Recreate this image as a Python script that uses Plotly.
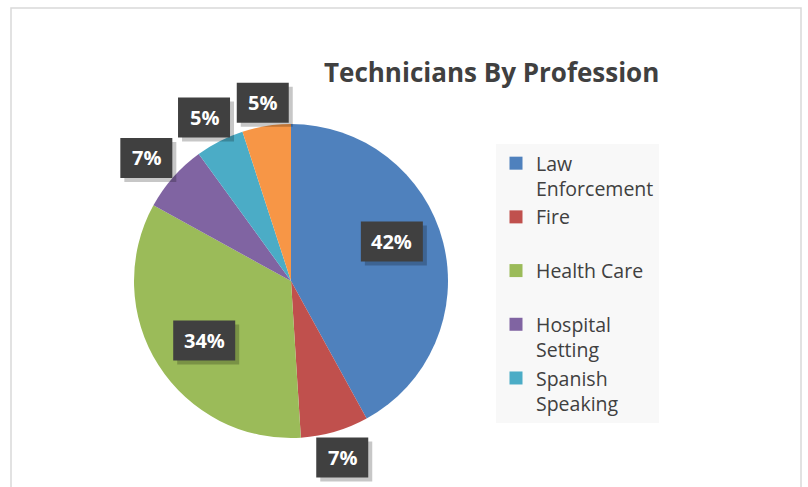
import math
import plotly.graph_objects as go

# ---- data ----
professions = ["Law Enforcement", "Fire", "Health Care", "Hospital Setting", "Spanish Speaking", "Other"]
legend_names = ["Law<br>Enforcement", "Fire<br>\u00a0", "Health Care<br>\u00a0", "Hospital<br>Setting", "Spanish<br>Speaking"]
shares = [42, 7, 34, 7, 5, 5]
colors = ["#4F81BD", "#C0504D", "#9BBB59", "#8064A2", "#4BACC6", "#F79646"]

# ---- layout constants (pixels) ----
W, H = 808, 487
cx, cy, R = 291, 281, 157
label_r = [0.69, 1.17, 0.67, 1.21, 1.18, 1.15]
label_dang = [-7, 0, -2, -1, -1, 0]

def px(x):
    return x / W

def py(y):
    return 1 - y / H

fig = go.Figure()
fig.add_trace(go.Pie(
    labels=professions, values=shares, sort=False, direction="clockwise",
    rotation=0, marker=dict(colors=colors, line=dict(width=0)),
    textinfo="none", hoverinfo="label+percent", showlegend=False,
    domain=dict(x=[px(cx - R), px(cx + R)], y=[py(cy + R), py(cy - R)]),
))

for name, col in zip(legend_names, colors):
    fig.add_trace(go.Scatter(
        x=[None], y=[None], mode="markers", name=name,
        marker=dict(symbol="square", size=13, color=col),
    ))

total = sum(shares)
annotations = []
shapes = [dict(
    type="rect", xref="paper", yref="paper",
    x0=px(11), x1=px(801), y0=py(520), y1=py(8),
    line=dict(color="#D9D9D9", width=1.5), layer="below",
)]
cum = 0
for i, v in enumerate(shares):
    mid = (cum + v / 2) / total * 360 + label_dang[i]
    cum += v
    a = math.radians(mid)
    lx = cx + label_r[i] * R * math.sin(a)
    ly = cy - label_r[i] * R * math.cos(a)
    txt = f"{round(v / total * 100)}%"
    hw = 31 if len(txt) == 3 else 26
    hh = 20
    for off, colr in ((4, "rgba(0,0,0,0.22)"), (0, "#404040")):
        shapes.append(dict(
            type="rect", xref="paper", yref="paper",
            xsizemode="pixel", ysizemode="pixel",
            xanchor=px(lx), yanchor=py(ly),
            x0=-hw + off, x1=hw + off, y0=-hh - off, y1=hh - off,
            fillcolor=colr, line=dict(width=0), layer="above",
        ))
    annotations.append(dict(
        x=px(lx), y=py(ly), xref="paper", yref="paper", text=txt,
        xanchor="center", yanchor="middle", showarrow=False,
        font=dict(family="Open Sans", size=20, color="white", weight="bold"),
    ))

annotations.append(dict(
    x=px(491), y=py(72), xref="paper", yref="paper",
    xanchor="center", yanchor="middle",
    text="<b>Technicians By Profession</b>", showarrow=False,
    font=dict(family="Open Sans", size=26, color="#404040"),
))

fig.update_layout(
    width=W, height=H, margin=dict(l=0, r=0, t=0, b=0),
    paper_bgcolor="white", plot_bgcolor="white",
    xaxis=dict(visible=False), yaxis=dict(visible=False),
    annotations=annotations,
    shapes=shapes,
    legend=dict(
        x=px(496), y=py(144), xanchor="left", yanchor="top",
        bgcolor="#F8F8F8", borderwidth=0, valign="top",
        font=dict(family="Open Sans", size=19.5, color="#404040"),
        tracegroupgap=0,
    ),
)

fig.write_html("out.html")
